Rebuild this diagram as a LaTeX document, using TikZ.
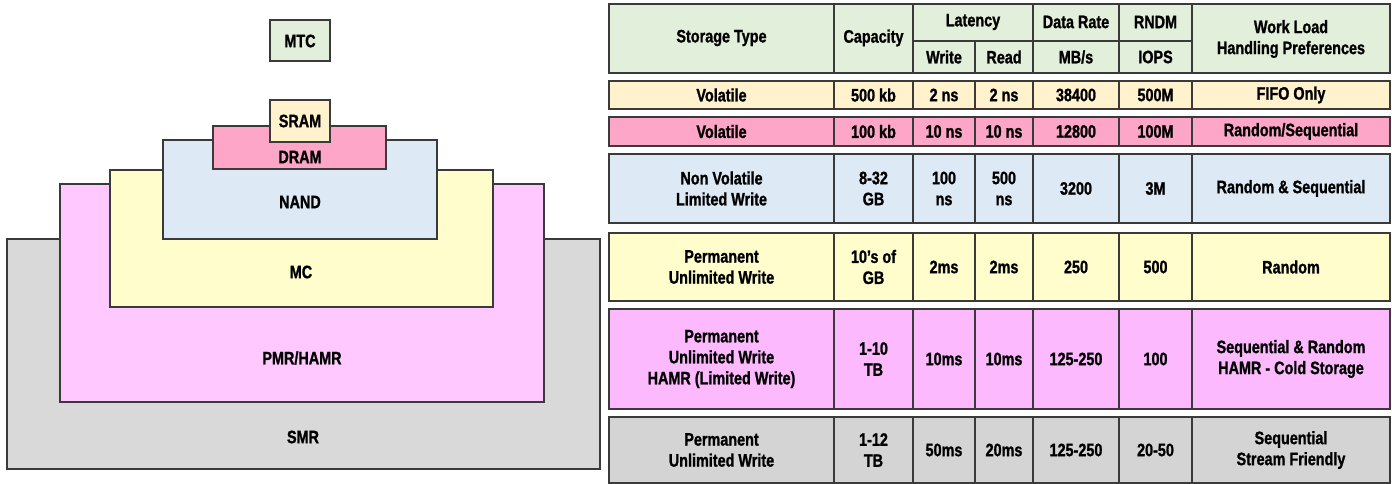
\documentclass[tikz,border=0pt]{standalone}
\usepackage{fontspec}
\setmainfont{Liberation Sans}[BoldFont={Liberation Sans Bold},
  FakeStretch=0.8, BoldFeatures={FakeBold=1.2}]

\definecolor{edge}{HTML}{3A3A3A}
\definecolor{mtcgreen}{HTML}{E2EFDA}
\definecolor{sramcream}{HTML}{FFF2CC}
\definecolor{dramrose}{HTML}{FDA6C8}
\definecolor{nandblue}{HTML}{DDEAF6}
\definecolor{mcyellow}{HTML}{FFFDCC}
\definecolor{pmrpink}{HTML}{FFC9FF}
\definecolor{pmrrow}{HTML}{FDB9FD}
\definecolor{smrgray}{HTML}{D9D9D9}
\definecolor{smrrow}{HTML}{D4D4D4}

% one data row of the table: name, y, then the seven cells
\newcommand\tabrow[9]{%
  \node[cell] (#1-type) at (721.5,#2) {#3};
  \node[cell] (#1-cap)  at (873.5,#2) {#4};
  \node[cell] (#1-wr)   at (944,#2)   {#5};
  \node[cell] (#1-rd)   at (1004,#2)  {#6};
  \node[cell] (#1-rate) at (1076,#2)  {#7};
  \node[cell] (#1-iops) at (1155.5,#2) {#8};
  \node[cell] (#1-load) at (1291,#2)  {#9};}

\begin{document}
\begin{tikzpicture}[x=1pt,y=-1pt,
  box/.style={draw=edge,line width=1.4pt},
  lbl/.style={font=\bfseries\fontsize{18}{21}\selectfont,align=center,inner sep=0pt},
  cell/.style={lbl}]
  \useasboundingbox (0,0) rectangle (1392,484);

  % layered stack
  \draw[box,fill=smrgray]   (7,239) rectangle (600,469);
  \draw[box,fill=pmrpink]   (60,184) rectangle (544,402);
  \draw[box,fill=mcyellow]  (110,170) rectangle (493,307);
  \draw[box,fill=nandblue]  (163,140) rectangle (437,239);
  \draw[box,fill=dramrose]  (213,126) rectangle (386,169);
  \draw[box,fill=sramcream] (270,100) rectangle (330,142);
  \draw[box,fill=mtcgreen]  (270,20) rectangle (330,61);

  \node[lbl] (mtc)  at (300,41)  {MTC};
  \node[lbl] (sram) at (300,121) {SRAM};
  \node[lbl] (dram) at (300,157) {DRAM};
  \node[lbl] (nand) at (300,202) {NAND};
  \node[lbl] (mc)   at (301,272) {MC};
  \node[lbl] (pmr)  at (302,358) {PMR/HAMR};
  \node[lbl] (smr)  at (303,437) {SMR};

  % table header
  \draw[box,fill=mtcgreen] (609,4) rectangle (1390,73);
  \draw[box] (913,41) -- (1192,41);
  \foreach \x in {834,913,1033,1119,1192}
    \draw[box] (\x,4) -- (\x,73);
  \draw[box] (975,41) -- (975,73);

  \node[lbl] (h-type) at (721.5,38) {Storage Type};
  \node[lbl] (h-cap)  at (873.5,38) {Capacity};
  \node[lbl] (h-lat)  at (973,22)   {Latency};
  \node[lbl] (h-wr)   at (944,57)   {Write};
  \node[lbl] (h-rd)   at (1004,57)  {Read};
  \node[lbl] (h-rate) at (1076,22)  {Data Rate};
  \node[lbl] (h-mbs)  at (1076,57)  {MB/s};
  \node[lbl] (h-rndm) at (1155.5,22) {RNDM};
  \node[lbl] (h-iops) at (1155.5,57) {IOPS};
  \node[lbl] (h-load) at (1291,39)  {Work Load\\Handling Preferences};

  % table rows
  \foreach \ytop/\ybot/\rowcol in {81/109/sramcream, 117/146/dramrose,
      154/223/nandblue, 233/301/mcyellow, 309/409/pmrrow, 417/483/smrrow}{
    \draw[box,fill=\rowcol] (609,\ytop) rectangle (1390,\ybot);
    \foreach \x in {834,913,975,1033,1119,1192}
      \draw[box] (\x,\ytop) -- (\x,\ybot);
  }

  \tabrow{sram-r}{95}{Volatile}{500 kb}{2 ns}{2 ns}{38400}{500M}{FIFO Only}
  \tabrow{dram-r}{131.5}{Volatile}{100 kb}{10 ns}{10 ns}{12800}{100M}{Random/Sequential}
  \tabrow{nand-r}{188.5}{Non Volatile\\Limited Write}{8-32\\GB}{100\\ns}{500\\ns}{3200}{3M}{Random \& Sequential}
  \tabrow{mc-r}{267}{Permanent\\Unlimited Write}{10’s of\\GB}{2ms}{2ms}{250}{500}{Random}
  \tabrow{pmr-r}{359}{Permanent\\Unlimited Write\\HAMR (Limited Write)}{1-10\\TB}{10ms}{10ms}{125-250}{100}{Sequential \& Random\\HAMR - Cold Storage}
  \tabrow{smr-r}{450}{Permanent\\Unlimited Write}{1-12\\TB}{50ms}{20ms}{125-250}{20-50}{Sequential\\Stream Friendly}
\end{tikzpicture}
\end{document}
